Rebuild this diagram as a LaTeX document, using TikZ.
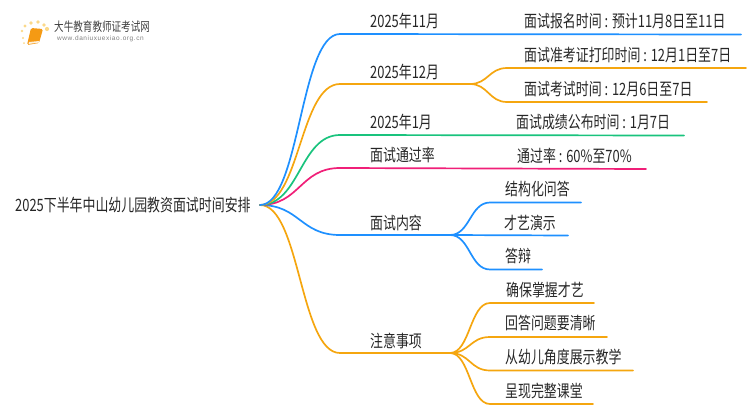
\documentclass[tikz,border=0pt]{standalone}
\usepackage{fontspec}
\setmainfont[FakeStretch=0.76]{Noto Sans CJK SC}
\newfontfamily\urlfont[LetterSpace=9]{Liberation Sans}
\definecolor{lineblue}{HTML}{1E90FF}
\definecolor{lineorange}{HTML}{F5A60F}
\definecolor{linegreen}{HTML}{19C37D}
\definecolor{linepink}{HTML}{F01F78}
\definecolor{booko}{HTML}{F59A14}
\definecolor{sundot}{HTML}{FBD98A}
\tikzset{
	txt/.style={anchor=west,inner sep=0pt,text=black!85,font=\fontsize{17}{19}\selectfont},
	branch/.style={line width=1.7pt,line cap=round}
}

\begin{document}
\begin{tikzpicture}[x=1pt,y=-1pt]
	\useasboundingbox (0,0) rectangle (750,410);
	
	% logo
	\foreach \x/\y/\r in {25/26/1.6,31/23/1.8,38/22/1.9,44/25/1.9,47/29/2.1,22/31/1.3,23/38/1.2,24/43/1}
		\fill[sundot] (\x,\y) circle (\r);
	\fill[booko,rounded corners=1.5pt] (31,28) -- (43,29) -- (39,43) -- (27,45) -- cycle;
	\fill[white!85!booko] (29,42) -- (39,41) -- (39,42.5) -- (28.5,44) -- cycle;
	\node[txt,font=\fontsize{12.6}{14}\selectfont,text=black!75] (logoname) at (54,26.5) {大牛教育教师证考试网};
	\node[txt,font=\fontsize{6.5}{8}\urlfont,text=black!50] (logourl) at (57,39) {www.daniuxuexiao.org.cn};
	
	\node[txt] (title) at (15,205) {2025下半年中山幼儿园教资面试时间安排};
	
	% first level labels
	\foreach \n/\x/\y/\t in {a/370/21/2025年11月,b/370/72/2025年12月,c/370/122/2025年1月,
		d/370/155/面试通过率,e/370/223/面试内容,f/370/341/注意事项}
		\node[txt] (\n) at (\x,\y) {\t};
	
	% second level labels
	\foreach \n/\x/\y/\t in {a1/524/21/面试报名时间 : 预计11月8日至11日,
		b1/524/55/面试准考证打印时间 : 12月1日至7日,
		b2/524/89/面试考试时间 : 12月6日至7日,
		c1/516/122/面试成绩公布时间 : 1月7日,
		d1/517/156/通过率 : 60\%至70\%,
		e1/505/189/结构化问答,e2/504/223/才艺演示,e3/505/256/答辩,
		f1/506/290/确保掌握才艺,f2/505/323/回答问题要清晰,
		f3/505/357/从幼儿角度展示教学,f4/505/391/呈现完整课堂}
		\node[txt] (\n) at (\x,\y) {\t};
	
	\coordinate (root) at (260,205);
	\coordinate (ra) at (340,34);
	\coordinate (rb) at (340,84);
	\coordinate (rc) at (340,135);
	\coordinate (rd) at (340,168);
	\coordinate (re) at (340,235);
	\coordinate (rf) at (340,353);
	\coordinate (sb) at (470,84);
	\coordinate (se) at (450,235);
	\coordinate (sf) at (450,353);
	
	\draw[branch,lineorange] (root) .. controls +(40,0) and +(-40,0) .. (rf) -- (sf);
	\draw[branch,lineblue] (root) .. controls +(40,0) and +(-40,0) .. (re) -- (se);
	\draw[branch,linepink] (root) .. controls +(40,0) and +(-40,0) .. (rd) -- (646,169) coordinate (dd);
	\draw[branch,linegreen] (root) .. controls +(40,0) and +(-40,0) .. (rc) -- (684,135.5) coordinate (cc);
	\draw[branch,lineorange] (root) .. controls +(40,0) and +(-40,0) .. (rb) -- (sb);
	\draw[branch,lineblue] (root) .. controls +(40,0) and +(-40,0) .. (ra) -- (741,34.5) coordinate (aa);
	
	\foreach \x/\y/\r/\c in {507/68/746/b1,507/102/707/b2}
		\draw[branch,lineorange] (sb) .. controls +(18,0) and +(-18,0) .. (\x,\y) coordinate (l\c) -- (\r,\y) coordinate (k\c);
	\foreach \x/\y/\r/\c in {490/202.5/581/e1,490/269.5/542/e3}
		\draw[branch,lineblue] (se) .. controls +(20,0) and +(-20,0) .. (\x,\y) coordinate (l\c) -- (\r,\y) coordinate (k\c);
	\draw[branch,lineblue] (se) -- (568,235.5) coordinate (ke2);
	\foreach \x/\y/\r/\c in {490/303/594/f1,490/337/607/f2,490/370.5/633/f3,490/404/593/f4}
		\draw[branch,lineorange] (sf) .. controls +(20,0) and +(-20,0) .. (\x,\y) coordinate (l\c) -- (\r,\y) coordinate (k\c);
\end{tikzpicture}
\end{document}
